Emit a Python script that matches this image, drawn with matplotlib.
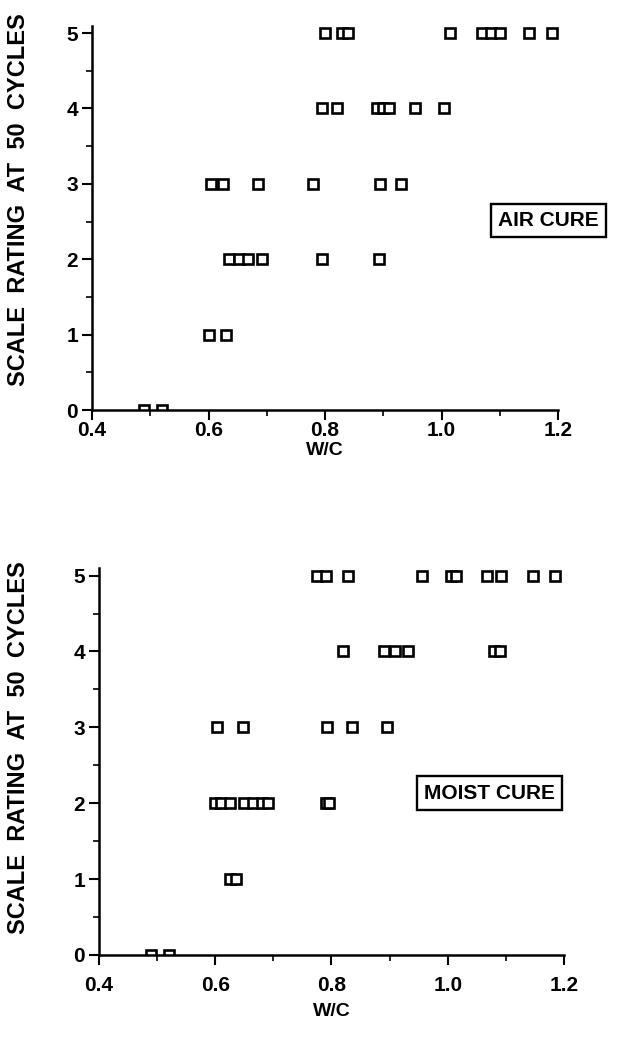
import matplotlib
matplotlib.use("Agg")
import matplotlib.pyplot as plt
from matplotlib.ticker import MultipleLocator

plt.rcParams['font.family'] = ['Liberation Sans', 'DejaVu Sans']
plt.rcParams['font.weight'] = 'bold'

# air cure: w/c ratio and scale rating
air_wc = [0.80, 0.83, 0.84, 1.015, 1.07, 1.085, 1.10, 1.15, 1.19,
          0.795, 0.82, 0.89, 0.90, 0.91, 0.955, 1.005,
          0.605, 0.625, 0.685, 0.78, 0.895, 0.93,
          0.635, 0.652, 0.668, 0.692, 0.795, 0.893,
          0.60, 0.63,
          0.49, 0.52]
air_rating = [5] * 9 + [4] * 7 + [3] * 6 + [2] * 6 + [1] * 2 + [0] * 2

# moist cure
moist_wc = [0.775, 0.79, 0.828, 0.955, 1.005, 1.015, 1.067, 1.092, 1.146, 1.185,
            0.82, 0.89, 0.91, 0.932, 1.08, 1.09,
            0.603, 0.647, 0.793, 0.835, 0.895,
            0.60, 0.61, 0.625, 0.65, 0.665, 0.68, 0.69, 0.79, 0.795,
            0.625, 0.635,
            0.49, 0.52]
moist_rating = [5] * 10 + [4] * 6 + [3] * 5 + [2] * 9 + [1] * 2 + [0] * 2

xticks = [0.4, 0.6, 0.8, 1.0, 1.2]
yticks = [0, 1, 2, 3, 4, 5]
ylabel = "SCALE  RATING  AT  50  CYCLES"


def draw_panel(ax, wc, rating, label, box_xy, ylabel_xy, xpad, xlabelpad):
    ax.plot(wc, rating, linestyle='none', marker='s', markersize=7,
            markerfacecolor='white', markeredgecolor='black', markeredgewidth=1.9)
    ax.set_xlim(0.4, 1.2)
    ax.set_ylim(0, 5.1)
    ax.set_xticks(xticks)
    ax.set_xticklabels(["%.1f" % t for t in xticks])
    ax.set_yticks(yticks)
    ax.xaxis.set_minor_locator(MultipleLocator(0.1))
    ax.yaxis.set_minor_locator(MultipleLocator(0.5))
    ax.tick_params(which='major', direction='out', length=7, width=1.5, labelsize=15)
    ax.tick_params(which='minor', direction='out', length=4.5, width=1.2)
    ax.tick_params(axis='x', which='major', pad=xpad)
    ax.tick_params(axis='y', which='major', pad=3)
    for s in ['top', 'right']:
        ax.spines[s].set_visible(False)
    for s in ['left', 'bottom']:
        ax.spines[s].set_linewidth(1.8)
    ax.set_xlabel("W/C", fontsize=14, fontweight='bold', labelpad=xlabelpad)
    ax.set_ylabel(ylabel, fontsize=17, fontweight='bold')
    ax.yaxis.set_label_coords(*ylabel_xy)
    ax.text(box_xy[0], box_xy[1], label, transform=ax.transAxes, fontsize=15,
            fontweight='bold', ha='center', va='center',
            bbox=dict(boxstyle='square,pad=0.35', facecolor='white',
                      edgecolor='black', linewidth=1.7))


fig = plt.figure(figsize=(6.42, 10.38), dpi=100)
ax1 = fig.add_axes([0.1433, 0.605, 0.7259, 0.3704])
ax2 = fig.add_axes([0.1542, 0.080, 0.7243, 0.3728])

draw_panel(ax1, air_wc, air_rating, "AIR CURE", (0.98, 0.493), (-0.133, 0.546), 1, 1)
draw_panel(ax2, moist_wc, moist_rating, "MOIST CURE", (0.84, 0.418), (-0.148, 0.535), 8, 6)

fig.savefig("out.png", dpi=100)
